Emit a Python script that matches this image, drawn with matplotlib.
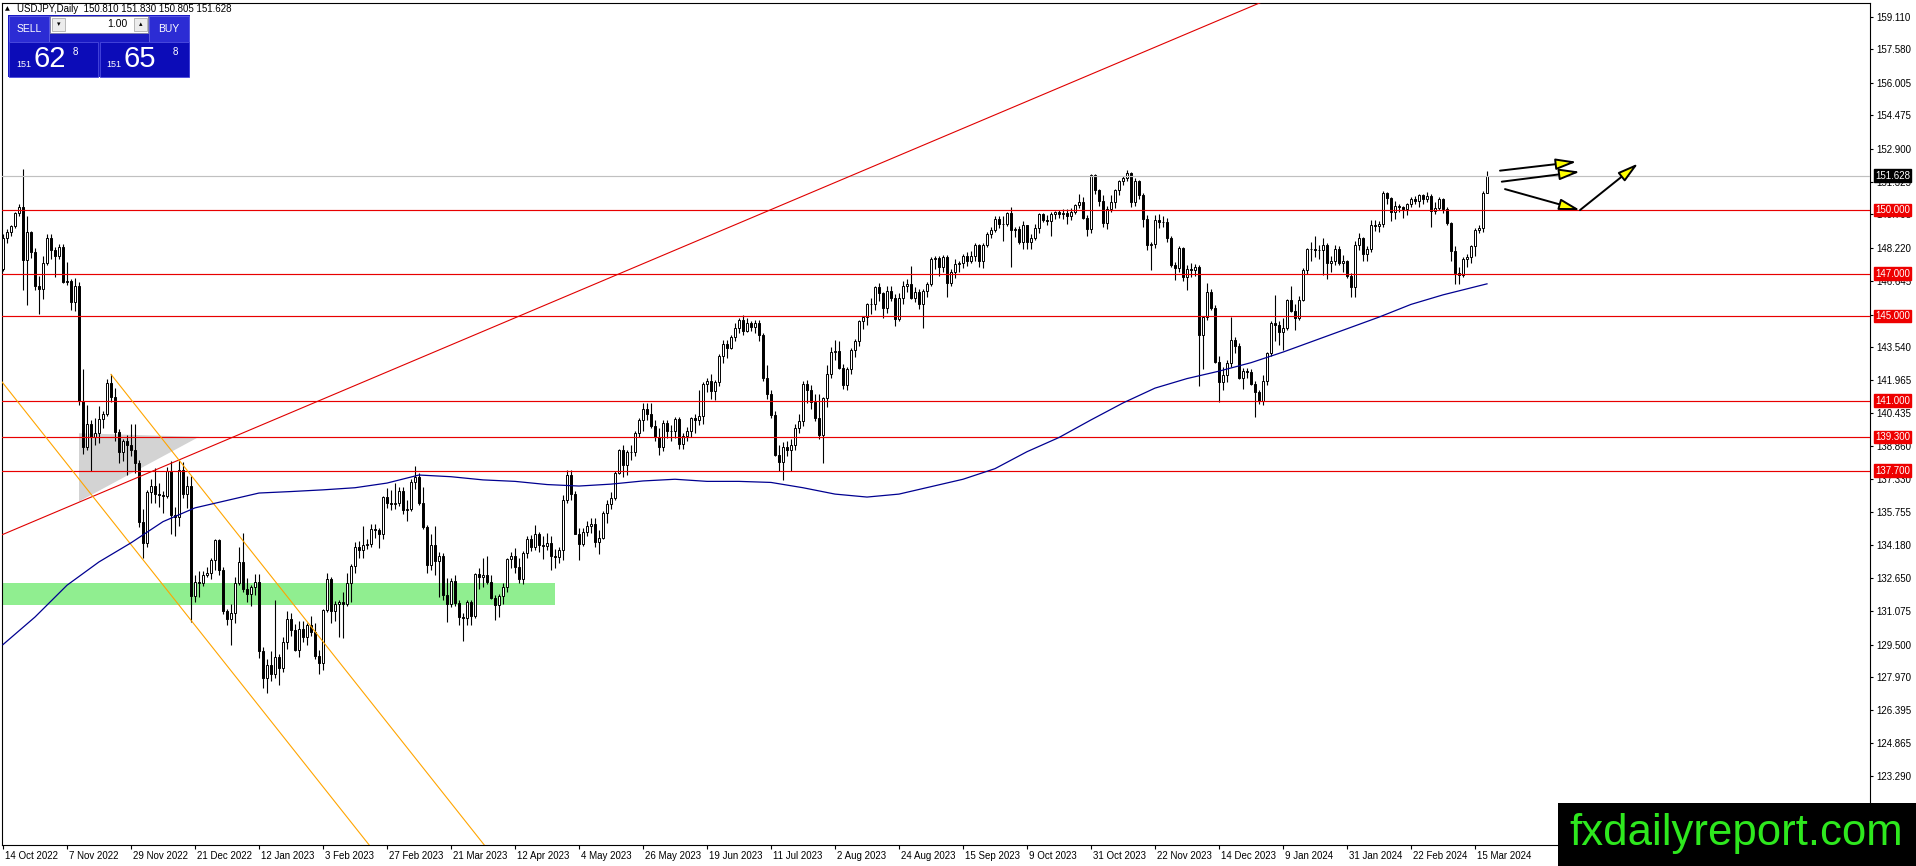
import numpy as np
import matplotlib
matplotlib.use("Agg")
import matplotlib.pyplot as plt
from matplotlib.patches import Rectangle, Polygon, FancyArrowPatch
from matplotlib.transforms import ScaledTranslation

plt.rcParams['font.family'] = ['Liberation Sans', 'DejaVu Sans']

# ---------------- data (USDJPY daily, 14 Oct 2022 - 20 Mar 2024) ----------------
bar_open = [
    # Oct 2022
    147.20, 148.70, 148.95, 149.25, 149.85, 150.15, 147.65, 148.95, 148.00, 146.40, 146.30, 147.50,
    # Nov 2022
    148.70, 148.10, 147.85, 148.25, 146.60, 146.65, 145.65, 146.40, 141.00, 138.80, 139.90, 139.30, 139.50, 140.15, 140.40, 141.85, 141.20, 139.55, 138.60, 139.10, 138.90, 138.70,
    # Dec 2022
    138.05, 135.30, 134.30, 136.70, 137.00, 136.60, 136.55, 136.50, 137.70, 135.60, 135.50, 137.75, 136.60, 137.00, 131.80, 132.45, 132.40, 132.80, 132.90, 133.50, 134.45, 133.00,
    # Jan 2023
    131.10, 130.70, 131.00, 132.40, 133.40, 132.10, 131.90, 132.20, 132.45, 129.20, 127.90, 128.55, 128.10, 128.90, 128.40, 129.60, 130.70, 130.20, 129.25, 130.25, 129.85, 130.40,
    # Feb 2023
    130.10, 128.95, 128.65, 131.15, 132.60, 131.10, 131.40, 131.50, 131.40, 132.40, 133.20, 134.10, 133.95, 134.20, 134.25, 134.95, 134.90, 134.70, 136.45, 136.20,
    # Mar 2023
    136.15, 136.20, 136.75, 135.85, 135.90, 137.15, 137.40, 136.20, 135.05, 133.25, 134.20, 133.45, 133.70, 131.85, 131.40, 132.50, 131.45, 130.80, 130.75, 131.50, 130.85, 132.85, 132.70,
    # Apr 2023
    132.80, 132.45, 131.70, 131.35, 131.80, 132.20, 133.55, 133.70, 133.15, 132.60, 133.80, 134.50, 134.10, 134.70, 134.20, 134.15, 134.30, 133.70, 133.65, 133.95,
    # May 2023
    136.30, 137.50, 136.60, 134.70, 134.25, 134.80, 135.10, 135.20, 134.35, 134.55, 135.70, 136.15, 136.40, 137.60, 138.70, 137.95, 138.60, 138.60, 139.50, 140.10, 140.60, 140.40, 139.80,
    # Jun 2023
    139.30, 138.80, 139.95, 139.60, 139.60, 140.15, 138.95, 139.35, 139.60, 140.20, 140.10, 140.30, 141.80, 141.95, 141.45, 141.90, 143.10, 143.70, 143.50, 144.00, 144.45, 144.80,
    # Jul 2023
    144.30, 144.65, 144.50, 144.65, 144.10, 142.10, 141.30, 140.35, 138.45, 138.10, 138.80, 138.70, 138.90, 139.70, 140.05, 141.80, 141.50, 140.95, 140.20, 139.40, 141.15,
    # Aug 2023
    142.25, 143.30, 143.35, 142.55, 141.75, 142.50, 143.40, 143.80, 144.75, 144.95, 145.55, 145.55, 146.35, 146.10, 145.40, 146.20, 145.85, 144.85, 145.85, 146.40, 146.50, 145.85, 146.15,
    # Sep 2023
    145.55, 146.20, 146.50, 147.70, 147.75, 147.30, 147.80, 146.55, 147.10, 147.45, 147.50, 147.85, 147.60, 147.85, 148.35, 147.60, 148.35, 148.85, 149.05, 149.60, 149.35,
    # Oct 2023
    149.35, 149.85, 149.05, 149.10, 148.50, 149.30, 148.50, 148.70, 149.15, 149.80, 149.55, 149.50, 149.80, 149.90, 149.80, 149.85, 149.70, 149.90, 150.25, 150.40, 149.65, 149.10,
    # Nov 2023
    151.65, 150.95, 150.45, 149.40, 150.05, 150.40, 150.95, 151.35, 151.50, 151.75, 150.40, 151.35, 150.70, 149.60, 148.35, 148.40, 149.55, 149.45, 149.45, 148.70, 147.40, 147.25,
    # Dec 2023
    148.20, 146.85, 147.20, 147.15, 147.30, 144.10, 144.95, 146.15, 145.40, 142.85, 141.90, 142.20, 142.80, 143.85, 143.60, 142.10, 142.40, 142.35, 141.80, 141.40,
    # Jan 2024
    141.00, 141.95, 143.25, 144.65, 144.60, 144.25, 144.45, 145.75, 145.25, 144.90, 145.75, 147.15, 148.15, 148.15, 148.10, 148.10, 148.35, 147.50, 147.60, 148.15, 147.50, 147.60,
    # Feb 2024
    146.90, 146.35, 148.35, 148.70, 147.95, 148.15, 149.30, 149.25, 149.35, 150.80, 150.55, 149.90, 150.20, 150.15, 150.05, 150.30, 150.50, 150.45, 150.70, 150.50, 150.65,
    # Mar 2024
    149.95, 150.10, 150.50, 150.05, 149.40, 148.05, 147.05, 146.95, 147.70, 147.80, 148.30, 149.05, 149.15, 150.81,
]

bar_high = [
    148.86, 149.09, 149.30, 149.90, 150.29, 151.94, 149.70, 149.00, 148.20, 146.90, 147.85, 148.85,
    148.85, 148.25, 148.40, 148.40, 147.55, 146.75, 146.80, 146.60, 142.50, 140.80, 140.10, 140.20, 140.75, 140.50, 142.05, 142.25, 141.60, 139.65, 139.20, 139.40, 139.90, 139.90,
    138.20, 135.90, 136.80, 137.30, 137.85, 137.10, 136.75, 137.90, 138.15, 136.00, 138.20, 138.10, 137.45, 137.45, 132.80, 132.95, 132.95, 133.15, 133.60, 134.50, 134.50, 133.15,
    131.20, 131.40, 132.70, 134.10, 134.77, 132.65, 132.30, 132.85, 132.85, 129.40, 128.80, 129.20, 131.58, 129.05, 129.85, 131.10, 131.00, 130.45, 130.60, 130.60, 130.50, 130.85,
    130.50, 129.25, 131.20, 132.90, 132.70, 131.55, 131.60, 132.00, 132.90, 133.30, 134.35, 134.40, 135.10, 134.50, 135.20, 135.20, 135.00, 136.50, 136.90, 136.80,
    137.10, 136.95, 136.95, 136.30, 137.30, 137.91, 137.60, 136.95, 135.15, 134.70, 135.10, 133.85, 133.80, 132.65, 132.65, 132.80, 131.60, 131.00, 131.60, 131.60, 132.90, 133.10, 133.60,
    133.70, 132.80, 131.85, 131.90, 132.40, 133.60, 133.85, 134.05, 133.60, 133.90, 134.60, 134.65, 135.15, 134.80, 134.60, 134.75, 134.60, 134.00, 134.10, 136.55,
    137.75, 137.75, 136.75, 135.00, 135.00, 135.35, 135.45, 135.45, 134.90, 135.80, 136.30, 136.70, 137.70, 138.75, 138.90, 138.70, 138.90, 139.60, 140.20, 140.90, 140.90, 140.90, 140.10,
    139.70, 140.10, 140.10, 139.85, 140.25, 140.25, 139.50, 139.75, 140.25, 140.40, 141.50, 141.90, 142.10, 142.25, 142.00, 143.20, 143.85, 143.85, 144.10, 144.65, 144.90, 145.07,
    144.90, 144.75, 144.80, 144.80, 144.20, 142.70, 141.50, 140.50, 138.90, 139.05, 139.10, 139.20, 139.90, 140.40, 141.95, 142.00, 141.75, 141.30, 141.30, 141.20, 142.70,
    143.55, 143.85, 143.80, 142.75, 142.60, 143.50, 143.90, 144.80, 145.00, 145.60, 145.85, 146.40, 146.55, 146.15, 146.40, 146.40, 146.05, 146.10, 146.65, 146.75, 147.37, 146.35, 146.30,
    146.30, 146.60, 147.80, 147.85, 147.85, 147.90, 147.90, 147.20, 147.70, 147.60, 147.95, 148.00, 148.05, 148.45, 148.40, 148.45, 148.95, 149.20, 149.70, 149.70, 149.70,
    149.90, 150.16, 149.20, 149.25, 149.50, 149.30, 148.85, 149.35, 149.85, 149.85, 149.75, 149.90, 149.95, 150.00, 150.05, 150.05, 150.10, 150.30, 150.78, 150.60, 149.75, 151.72,
    151.70, 151.00, 150.70, 150.20, 150.70, 151.00, 151.40, 151.60, 151.91, 151.80, 151.50, 151.40, 150.80, 149.75, 148.50, 149.75, 149.80, 149.70, 149.65, 148.80, 147.55, 148.30,
    148.25, 147.40, 147.50, 147.45, 147.40, 145.00, 146.55, 146.30, 145.50, 143.10, 142.60, 142.95, 144.95, 144.00, 143.75, 142.55, 142.55, 142.50, 141.95, 141.50,
    142.20, 143.30, 144.75, 145.98, 144.75, 144.90, 145.80, 146.40, 145.55, 145.95, 147.25, 148.20, 148.50, 148.80, 148.35, 148.70, 148.45, 147.85, 148.35, 148.30, 147.90, 147.65,
    147.05, 148.55, 148.90, 148.75, 148.30, 149.55, 149.55, 149.50, 150.88, 150.85, 150.60, 150.45, 150.30, 150.20, 150.35, 150.60, 150.65, 150.75, 150.75, 150.85, 150.75,
    150.40, 150.60, 150.55, 150.15, 149.45, 148.30, 147.30, 147.80, 147.95, 148.35, 149.15, 149.30, 150.90, 151.83,
]

bar_low = [
    147.12, 148.45, 148.80, 149.15, 149.70, 146.23, 145.50, 147.75, 146.25, 145.10, 145.80, 147.40,
    147.70, 146.85, 147.70, 146.55, 146.45, 145.30, 145.25, 140.80, 138.47, 138.70, 137.68, 138.90, 139.00, 139.70, 140.30, 140.95, 139.10, 138.05, 138.15, 137.50, 138.40, 137.60,
    135.05, 133.60, 134.10, 136.20, 136.20, 136.00, 135.70, 136.40, 134.70, 134.60, 135.10, 136.40, 135.95, 130.58, 131.50, 131.75, 132.25, 132.70, 132.60, 133.00, 132.80, 130.95,
    130.40, 129.50, 130.50, 132.30, 131.99, 131.50, 131.30, 131.85, 128.85, 127.45, 127.22, 127.80, 127.90, 127.60, 128.20, 129.30, 129.90, 129.20, 128.90, 129.60, 129.50, 129.90,
    128.80, 128.10, 128.30, 131.05, 130.50, 130.60, 129.85, 129.80, 131.30, 131.50, 132.90, 133.60, 133.60, 134.00, 134.10, 134.55, 134.05, 134.50, 135.95, 135.85,
    135.90, 136.05, 135.65, 135.35, 135.80, 136.85, 136.10, 134.95, 132.90, 133.00, 132.80, 131.75, 131.60, 130.55, 131.25, 131.30, 130.40, 129.65, 130.40, 130.40, 130.75, 132.10, 132.20,
    132.35, 131.65, 130.65, 130.80, 131.40, 132.00, 133.10, 132.90, 132.40, 132.35, 133.60, 133.90, 133.95, 133.85, 133.55, 133.95, 133.00, 133.10, 133.35, 133.50,
    136.20, 136.30, 134.70, 133.50, 134.15, 134.60, 134.75, 134.10, 133.75, 134.50, 135.25, 135.90, 136.30, 137.55, 137.40, 137.50, 138.20, 138.40, 139.30, 139.60, 140.10, 139.70, 139.10,
    138.45, 138.65, 139.25, 139.10, 139.25, 138.75, 138.75, 139.10, 139.30, 139.50, 139.85, 139.90, 141.40, 141.10, 141.05, 141.70, 142.80, 143.00, 143.45, 143.80, 144.20, 144.10,
    144.25, 144.30, 144.20, 143.80, 141.95, 141.10, 140.20, 138.40, 137.70, 137.25, 138.40, 137.70, 138.70, 139.50, 139.80, 140.90, 140.60, 140.05, 139.20, 138.05, 140.70,
    142.10, 142.95, 142.50, 141.55, 141.50, 142.25, 143.05, 143.60, 144.40, 144.60, 145.10, 145.30, 145.70, 144.90, 145.15, 145.70, 144.55, 144.75, 145.55, 146.15, 145.80, 145.65, 145.35,
    144.45, 145.90, 146.40, 147.20, 146.90, 147.10, 145.90, 146.40, 146.80, 147.10, 147.25, 147.35, 147.50, 147.60, 147.30, 147.25, 148.25, 148.70, 148.95, 149.15, 148.55,
    149.25, 147.30, 148.75, 148.40, 148.15, 148.15, 148.15, 148.60, 148.90, 149.45, 149.30, 148.80, 149.60, 149.65, 149.60, 149.35, 149.55, 149.80, 150.10, 149.60, 148.80, 148.90,
    150.75, 150.20, 149.20, 149.10, 149.90, 150.10, 150.70, 151.20, 151.35, 150.15, 150.20, 150.50, 149.20, 148.10, 147.15, 148.20, 149.15, 149.20, 148.50, 147.30, 146.70, 147.10,
    146.65, 146.25, 146.85, 146.90, 141.70, 142.50, 144.80, 145.30, 142.80, 140.95, 141.50, 141.90, 142.60, 143.25, 142.05, 141.55, 142.10, 141.75, 140.25, 140.85,
    140.80, 141.75, 143.10, 143.80, 143.65, 143.40, 144.35, 145.20, 144.35, 144.80, 145.70, 147.00, 147.60, 147.80, 147.70, 146.95, 146.75, 147.10, 147.40, 147.40, 147.10, 146.80,
    145.90, 145.90, 148.10, 147.60, 147.60, 148.00, 149.00, 148.95, 149.20, 150.30, 149.50, 149.60, 149.90, 149.65, 149.75, 150.15, 150.30, 150.15, 150.30, 150.40, 149.20,
    149.80, 150.00, 149.85, 149.30, 147.60, 146.50, 146.50, 146.85, 147.30, 147.50, 147.85, 148.90, 148.95, 150.805,
]

bar_close = [
    148.70, 148.95, 149.25, 149.85, 150.15, 147.65, 148.95, 148.00, 146.40, 146.30, 147.50, 148.70,
    148.10, 147.85, 148.25, 146.60, 146.65, 145.65, 146.40, 141.00, 138.80, 139.90, 139.30, 139.50, 140.15, 140.40, 141.85, 141.20, 139.55, 138.60, 139.10, 138.90, 138.70, 138.05,
    135.30, 134.30, 136.70, 137.00, 136.60, 136.55, 136.50, 137.70, 135.60, 135.50, 137.75, 136.60, 137.00, 131.80, 132.45, 132.40, 132.80, 132.90, 133.50, 134.45, 133.00, 131.10,
    130.70, 131.00, 132.40, 133.40, 132.10, 131.90, 132.20, 132.45, 129.20, 127.90, 128.55, 128.10, 128.90, 128.40, 129.60, 130.70, 130.20, 129.25, 130.25, 129.85, 130.40, 130.10,
    128.95, 128.65, 131.15, 132.60, 131.10, 131.40, 131.50, 131.40, 132.40, 133.20, 134.10, 133.95, 134.20, 134.25, 134.95, 134.90, 134.70, 136.45, 136.20, 136.15,
    136.20, 136.75, 135.85, 135.90, 137.15, 137.40, 136.20, 135.05, 133.25, 134.20, 133.45, 133.70, 131.85, 131.40, 132.50, 131.45, 130.80, 130.75, 131.50, 130.85, 132.85, 132.70, 132.80,
    132.45, 131.70, 131.35, 131.80, 132.20, 133.55, 133.70, 133.15, 132.60, 133.80, 134.50, 134.10, 134.70, 134.20, 134.15, 134.30, 133.70, 133.65, 133.95, 136.30,
    137.50, 136.60, 134.70, 134.25, 134.80, 135.10, 135.20, 134.35, 134.55, 135.70, 136.15, 136.40, 137.60, 138.70, 137.95, 138.60, 138.60, 139.50, 140.10, 140.60, 140.40, 139.80, 139.30,
    138.80, 139.95, 139.60, 139.60, 140.15, 138.95, 139.35, 139.60, 140.20, 140.10, 140.30, 141.80, 141.95, 141.45, 141.90, 143.10, 143.70, 143.50, 144.00, 144.45, 144.80, 144.30,
    144.65, 144.50, 144.65, 144.10, 142.10, 141.30, 140.35, 138.45, 138.10, 138.80, 138.70, 138.90, 139.70, 140.05, 141.80, 141.50, 140.95, 140.20, 139.40, 141.15, 142.25,
    143.30, 143.35, 142.55, 141.75, 142.50, 143.40, 143.80, 144.75, 144.95, 145.55, 145.55, 146.35, 146.10, 145.40, 146.20, 145.85, 144.85, 145.85, 146.40, 146.50, 145.85, 146.15, 145.55,
    146.20, 146.50, 147.70, 147.75, 147.30, 147.80, 146.55, 147.10, 147.45, 147.50, 147.85, 147.60, 147.85, 148.35, 147.60, 148.35, 148.85, 149.05, 149.60, 149.35, 149.35,
    149.85, 149.05, 149.10, 148.50, 149.30, 148.50, 148.70, 149.15, 149.80, 149.55, 149.50, 149.80, 149.90, 149.80, 149.85, 149.70, 149.90, 150.25, 150.40, 149.65, 149.10, 151.65,
    150.95, 150.45, 149.40, 150.05, 150.40, 150.95, 151.35, 151.50, 151.75, 150.40, 151.35, 150.70, 149.60, 148.35, 148.40, 149.55, 149.45, 149.45, 148.70, 147.40, 147.25, 148.20,
    146.85, 147.20, 147.15, 147.30, 144.10, 144.95, 146.15, 145.40, 142.85, 141.90, 142.20, 142.80, 143.85, 143.60, 142.10, 142.40, 142.35, 141.80, 141.40, 141.00,
    141.95, 143.25, 144.65, 144.60, 144.25, 144.45, 145.75, 145.25, 144.90, 145.75, 147.15, 148.15, 148.15, 148.10, 148.10, 148.35, 147.50, 147.60, 148.15, 147.50, 147.60, 146.90,
    146.35, 148.35, 148.70, 147.95, 148.15, 149.30, 149.25, 149.35, 150.80, 150.55, 149.90, 150.20, 150.15, 150.05, 150.30, 150.50, 150.45, 150.70, 150.50, 150.65, 149.95,
    150.10, 150.50, 150.05, 149.40, 148.05, 147.05, 146.95, 147.70, 147.80, 148.30, 149.05, 149.15, 150.81, 151.628,
]

# 200-period moving average (bar index, price)
ma_bars = [0, 8, 16, 24, 32, 40, 48, 56, 64, 72, 80, 88, 96, 104, 112, 120, 128, 136, 144, 152, 160,
           168, 176, 184, 192, 200, 208, 216, 224, 232, 240, 248, 256, 264, 272, 280, 288, 296, 304,
           312, 320, 328, 336, 344, 352, 360, 371]
ma_values = [129.50, 130.80, 132.30, 133.40, 134.30, 135.30, 135.95, 136.30, 136.65, 136.72, 136.80,
             136.90, 137.12, 137.50, 137.42, 137.27, 137.20, 137.05, 136.98, 137.07, 137.22, 137.30,
             137.20, 137.20, 137.15, 136.90, 136.60, 136.46, 136.60, 136.95, 137.30, 137.80, 138.60,
             139.27, 140.10, 140.90, 141.60, 142.05, 142.40, 142.80, 143.30, 143.85, 144.40, 144.95,
             145.55, 146.00, 146.52]

date_labels = ['14 Oct 2022', '7 Nov 2022', '29 Nov 2022', '21 Dec 2022', '12 Jan 2023', '3 Feb 2023',
               '27 Feb 2023', '21 Mar 2023', '12 Apr 2023', '4 May 2023', '26 May 2023', '19 Jun 2023',
               '11 Jul 2023', '2 Aug 2023', '24 Aug 2023', '15 Sep 2023', '9 Oct 2023', '31 Oct 2023',
               '22 Nov 2023', '14 Dec 2023', '9 Jan 2024', '31 Jan 2024', '22 Feb 2024', '15 Mar 2024']
date_label_bars = list(range(0, 16 * len(date_labels), 16))

price_ticks = [159.110, 157.580, 156.005, 154.475, 152.900, 151.325, 149.795, 148.220, 146.645,
               145.070, 143.540, 141.965, 140.435, 138.860, 137.330, 135.755, 134.180, 132.650,
               131.075, 129.500, 127.970, 126.395, 124.865, 123.290]

levels = [150.000, 147.000, 145.000, 141.000, 139.300, 137.700]
last_price = 151.628

# drawn objects (bar index, price)
red_trend_bars = [-1, 316]
red_trend_prices = [134.62, 159.92]
chan_a_bars = [-2, 110]
chan_a_prices = [142.31, 115.65]
chan_b_bars = [27, 125]
chan_b_prices = [142.25, 118.93]
triangle_bars = [19, 49, 19]
triangle_prices = [139.47, 139.30, 136.25]
zone_bars = [-1, 138]
zone_prices = [131.35, 132.41]
arrow_from_bars = [374.25, 374.7, 375.5, 394.25]
arrow_from_prices = [151.86, 151.34, 150.99, 150.00]
arrow_to_bars = [393.4, 394.25, 394.25, 408.8]
arrow_to_prices = [152.28, 151.81, 150.00, 152.20]

# ---------------- figure ----------------
W, H = 1916, 866
fig = plt.figure(figsize=(W / 100, H / 100), dpi=100, facecolor='white')
ax = fig.add_axes([2 / W, (H - 845) / H, 1868 / W, 842 / H])
ax.set_facecolor('white')

o = np.array(bar_open)
hi = np.array(bar_high)
lo = np.array(bar_low)
c = np.array(bar_close)
x = np.arange(len(c))

# background objects
ax.add_patch(Rectangle((zone_bars[0], zone_prices[0]), zone_bars[1] - zone_bars[0],
                       zone_prices[1] - zone_prices[0], fc='#90ee90', ec='none', zorder=1))
ax.add_patch(Polygon(list(zip(triangle_bars, triangle_prices)), closed=True,
                     fc='#d3d3d3', ec='none', zorder=1))

# candles
up = c >= o
ax.vlines(x, lo, hi, color='black', lw=0.8, zorder=3)
ax.bar(x, np.abs(c - o), bottom=np.minimum(o, c), width=0.56,
       color=np.where(up, 'white', 'black'), edgecolor='black', linewidth=0.7, zorder=4)

# horizontal levels
for lv in levels:
    ax.axhline(lv, color='#e80000', lw=0.85, zorder=5)
ax.axhline(last_price, color='#c0c0c0', lw=0.85, zorder=5)

# trend line and channel
ax.plot(red_trend_bars, red_trend_prices, color='#e00000', lw=0.8, zorder=5)
ax.plot(chan_a_bars, chan_a_prices, color='#ffa500', lw=0.8, zorder=5)
ax.plot(chan_b_bars, chan_b_prices, color='#ffa500', lw=0.8, zorder=5)

# moving average
ax.plot(ma_bars, ma_values, color='#000090', lw=0.9, zorder=6)

# arrows
for x0, y0, x1, y1 in zip(arrow_from_bars, arrow_from_prices, arrow_to_bars, arrow_to_prices):
    ax.add_patch(FancyArrowPatch((x0, y0), (x1, y1),
                                 arrowstyle='-|>,head_length=1.25,head_width=0.34',
                                 mutation_scale=10, lw=1.4, fc='#ffff00', ec='black',
                                 shrinkA=0, shrinkB=0, zorder=7))

# axes limits (4 px per bar, 21.195 px per yen)
ax.set_xlim(-0.25, 466.75)
ax.set_ylim(120.0435, 159.7705)

# price axis
ax.yaxis.tick_right()
ax.set_yticks(price_ticks)
ax.set_yticklabels([f'{p:.3f}' for p in price_ticks])
ax.tick_params(axis='y', direction='out', length=2.3, width=0.8, pad=2.2, labelsize=7,
               colors='black')

# date axis
ax.set_xticks(date_label_bars)
ax.set_xticklabels(date_labels)
ax.tick_params(axis='x', direction='out', length=3.0, width=0.8, pad=1.2, labelsize=7)
shift = ScaledTranslation(2 / 100, 0, fig.dpi_scale_trans)
for lbl in ax.get_xticklabels():
    lbl.set_horizontalalignment('left')
    lbl.set_transform(lbl.get_transform() + shift)

for sp in ax.spines.values():
    sp.set_color('black')
    sp.set_linewidth(0.8)

# level price tags on the right axis
ytrans = ax.get_yaxis_transform()
for lv in levels:
    ax.annotate(f'{lv:.3f}', xy=(1, lv), xycoords=ytrans, xytext=(5, 0), textcoords='offset pixels',
                ha='left', va='center', fontsize=7, color='white', annotation_clip=False, zorder=20,
                bbox=dict(boxstyle='square,pad=0.14', fc='#ee0000', ec='#ee0000'))
ax.annotate(f'{last_price:.3f}', xy=(1, last_price), xycoords=ytrans, xytext=(5, 0),
            textcoords='offset pixels', ha='left', va='center', fontsize=7, color='white',
            annotation_clip=False, zorder=21,
            bbox=dict(boxstyle='square,pad=0.14', fc='black', ec='black'))

# ---------------- overlay (pixel coordinates) ----------------
ov = fig.add_axes([0, 0, 1, 1], zorder=10)
ov.set_xlim(0, W)
ov.set_ylim(H, 0)
ov.axis('off')
ov.patch.set_alpha(0)

# header
ov.text(5, 9, '▲', fontsize=4.5, color='black', va='center', ha='left', family=['DejaVu Sans'])
ov.text(17, 9, 'USDJPY,Daily  150.810 151.830 150.805 151.628', fontsize=7, color='black',
        va='center', ha='left')

# one-click trading panel
ov.add_patch(Rectangle((8, 15), 182, 62, fc='#1a1ac4', ec='none'))
ov.add_patch(Rectangle((9, 15.5), 40, 26, fc='#2c2cd4', ec='#6464e6', lw=0.6))
ov.add_patch(Rectangle((149, 15.5), 40, 26, fc='#2c2cd4', ec='#6464e6', lw=0.6))
ov.add_patch(Rectangle((50, 15.5), 98, 17, fc='white', ec='#8080a0', lw=0.6))
ov.add_patch(Rectangle((52, 17.5), 13, 13, fc='#ececec', ec='#a0a0a0', lw=0.5))
ov.add_patch(Rectangle((134, 17.5), 13, 13, fc='#ececec', ec='#a0a0a0', lw=0.5))
ov.text(58.5, 24, '▾', fontsize=5, ha='center', va='center', color='black', family=['DejaVu Sans'])
ov.text(140.5, 24, '▴', fontsize=5, ha='center', va='center', color='black', family=['DejaVu Sans'])
ov.text(127, 24, '1.00', fontsize=7.5, ha='right', va='center', color='black')
ov.text(29, 29, 'SELL', fontsize=7.5, ha='center', va='center', color='white')
ov.text(169, 29, 'BUY', fontsize=7.5, ha='center', va='center', color='white')
ov.add_patch(Rectangle((9, 42), 89, 35, fc='#0c0cb8', ec='#4a4ade', lw=0.6))
ov.add_patch(Rectangle((100, 42), 89, 35, fc='#0c0cb8', ec='#4a4ade', lw=0.6))
ov.text(16, 67, '151', fontsize=6.5, ha='left', va='baseline', color='white')
ov.text(34, 67, '62', fontsize=21, ha='left', va='baseline', color='white')
ov.text(73, 55, '8', fontsize=7, ha='left', va='baseline', color='white')
ov.text(106, 67, '151', fontsize=6.5, ha='left', va='baseline', color='white')
ov.text(124, 67, '65', fontsize=21, ha='left', va='baseline', color='white')
ov.text(173, 55, '8', fontsize=7, ha='left', va='baseline', color='white')

# watermark
ov.add_patch(Rectangle((1558, 803), 358, 63, fc='black', ec='none'))
ov.text(1736, 845, 'fxdailyreport.com', fontsize=31.5, color='#2ee81e', ha='center',
        va='baseline', family=['Liberation Sans', 'DejaVu Sans'])

fig.savefig('out.png', dpi=100, facecolor='white')
